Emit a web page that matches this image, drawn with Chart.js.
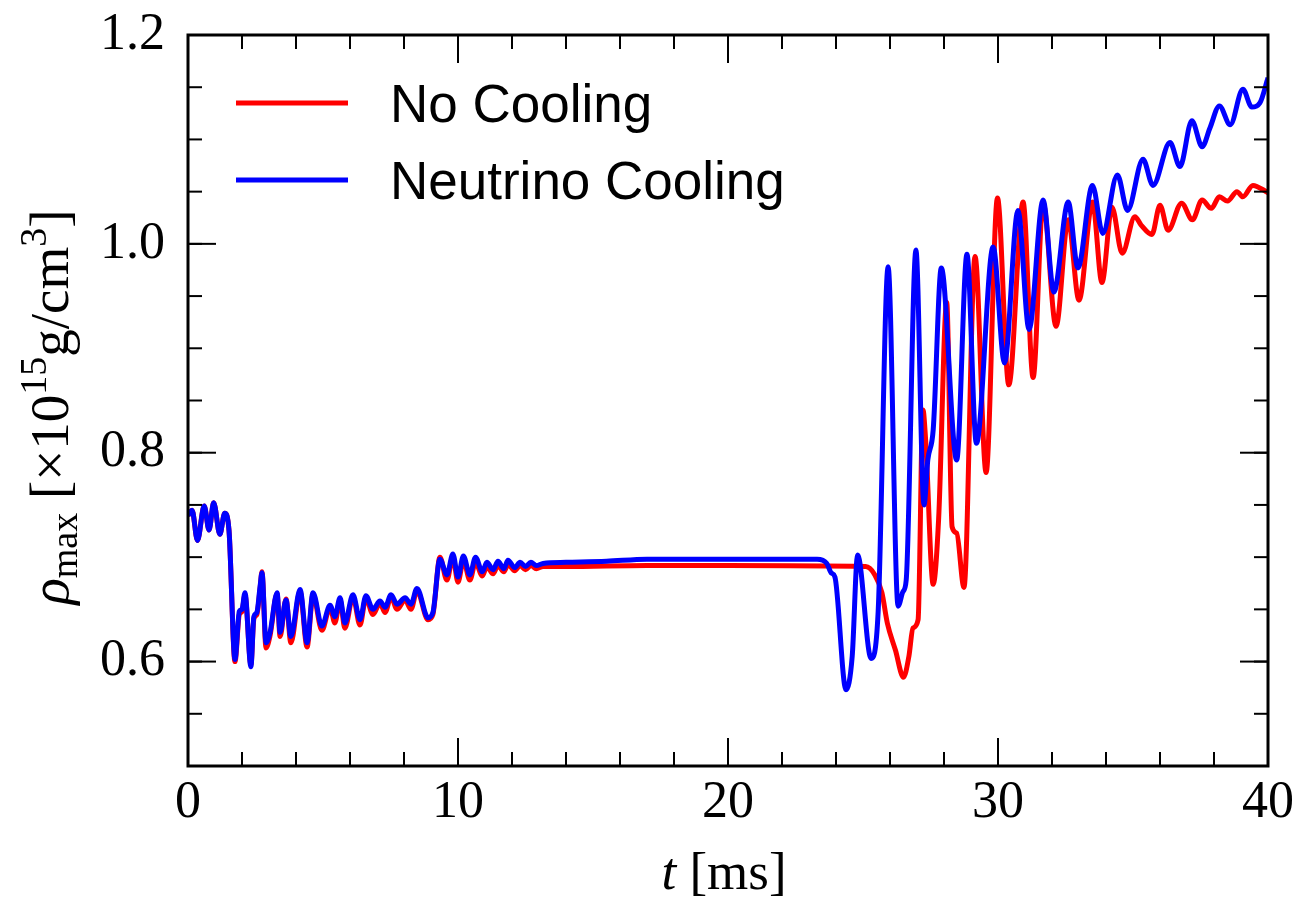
<!DOCTYPE html>
<html>
<head>
<meta charset="utf-8">
<script src="https://cdn.jsdelivr.net/npm/chart.js@4.4.1/dist/chart.umd.min.js"></script>
<style>
  body { margin: 0; background: #fff; }
</style>
</head>
<body>
<canvas id="rhoChart" width="1298" height="905"></canvas>
<script>
// time [ms] and rho_max [1e15 g/cm^3]
var timeNoCool = [0.0, 0.15, 0.35, 0.6, 0.78, 0.95, 1.18, 1.36, 1.52, 1.74, 1.9, 2.0, 2.11, 2.33, 2.44, 2.55, 2.67, 2.74,
    2.89, 3.04, 3.3, 3.41, 3.63, 3.81, 4.15, 4.41, 4.63, 4.96, 5.26, 5.44, 5.63, 5.81, 6.11, 6.37, 6.59, 6.85,
    7.11, 7.3, 7.52, 7.74, 8.04, 8.26, 8.48, 8.89, 9.07, 9.33, 9.59, 9.81, 10.0, 10.2, 10.44, 10.65, 10.9,
    11.07, 11.3, 11.48, 11.7, 11.85, 12.1, 12.3, 12.5, 12.7, 12.9, 13.15, 14.0, 17.0, 20.0, 25.1, 25.44,
    25.7, 25.9, 26.2, 26.5, 26.7, 26.85, 27.04, 27.22, 27.32, 27.6, 27.8, 28.1, 28.3, 28.47, 28.74, 29.15,
    29.56, 29.98, 30.4, 30.93, 31.3, 31.67, 32.15, 32.6, 33.0, 33.5, 33.85, 34.22, 34.6, 35.07, 35.3, 35.7,
    36.0, 36.3, 36.8, 37.2, 37.56, 37.9, 38.2, 38.5, 38.85, 39.07, 39.44, 40.0];
var rhoNoCool = [0.740, 0.745, 0.716, 0.749, 0.726, 0.752, 0.722, 0.742, 0.725, 0.600, 0.645, 0.648, 0.664, 0.597, 0.641, 0.645, 0.670, 0.686,
    0.613, 0.625, 0.665, 0.624, 0.660, 0.618, 0.667, 0.614, 0.664, 0.630, 0.652, 0.637, 0.659, 0.632, 0.662, 0.635, 0.661, 0.645,
    0.656, 0.647, 0.662, 0.650, 0.659, 0.650, 0.668, 0.640, 0.645, 0.700, 0.678, 0.700, 0.676, 0.697, 0.678, 0.695, 0.682,
    0.691, 0.684, 0.692, 0.686, 0.693, 0.687, 0.692, 0.688, 0.692, 0.689, 0.691, 0.691, 0.692, 0.692, 0.691, 0.683,
    0.666, 0.637, 0.611, 0.585, 0.605, 0.632, 0.640, 0.841, 0.812, 0.674, 0.736, 0.944, 0.729, 0.723, 0.671, 0.988,
    0.781, 1.044, 0.865, 1.040, 0.872, 1.039, 0.921, 1.023, 0.946, 1.040, 0.963, 1.035, 0.991, 1.026, 1.018, 1.009,
    1.037, 1.013, 1.039, 1.023, 1.042, 1.034, 1.045, 1.041, 1.050, 1.045, 1.056, 1.049];

var timeNuCool = [0.0, 0.15, 0.35, 0.6, 0.78, 0.95, 1.18, 1.36, 1.52, 1.74, 1.9, 2.0, 2.11, 2.33, 2.44, 2.55, 2.67, 2.74,
    2.89, 3.04, 3.3, 3.41, 3.63, 3.81, 4.15, 4.41, 4.63, 4.96, 5.26, 5.44, 5.63, 5.81, 6.11, 6.37, 6.59, 6.85,
    7.11, 7.3, 7.52, 7.74, 8.04, 8.26, 8.48, 8.89, 9.07, 9.33, 9.59, 9.81, 10.0, 10.2, 10.44, 10.65, 10.9,
    11.07, 11.3, 11.48, 11.7, 11.85, 12.1, 12.3, 12.5, 12.7, 12.9, 13.15, 14.0, 15.5, 17.0, 20.0, 23.3,
    23.66, 23.82, 23.96, 24.37, 24.6, 24.8, 25.3, 25.56, 25.93, 26.3, 26.48, 26.6, 26.96, 27.26, 27.4, 27.6,
    27.9, 28.47, 28.85, 29.2, 29.82, 30.24, 30.74, 31.15, 31.67, 32.07, 32.6, 32.96, 33.5, 33.88, 34.42, 34.8,
    35.37, 35.74, 36.37, 36.74, 37.18, 37.56, 37.85, 38.2, 38.6, 39.07, 39.4, 39.7, 40.0];
var rhoNuCool = [0.740, 0.745, 0.716, 0.749, 0.726, 0.752, 0.722, 0.742, 0.725, 0.602, 0.648, 0.650, 0.666, 0.595, 0.643, 0.647, 0.672, 0.685,
    0.618, 0.628, 0.666, 0.628, 0.659, 0.624, 0.669, 0.618, 0.666, 0.634, 0.654, 0.643, 0.661, 0.637, 0.664, 0.640, 0.663, 0.650,
    0.658, 0.652, 0.664, 0.655, 0.661, 0.655, 0.670, 0.642, 0.647, 0.698, 0.683, 0.703, 0.681, 0.701, 0.683, 0.700, 0.686,
    0.695, 0.688, 0.696, 0.689, 0.697, 0.690, 0.695, 0.691, 0.695, 0.692, 0.694, 0.695, 0.696, 0.698, 0.698, 0.698,
    0.694, 0.685, 0.681, 0.573, 0.605, 0.702, 0.603, 0.647, 0.978, 0.653, 0.667, 0.678, 0.994, 0.750, 0.793, 0.822,
    0.977, 0.793, 0.990, 0.809, 0.997, 0.886, 1.032, 0.918, 1.042, 0.954, 1.040, 0.977, 1.056, 1.010, 1.066, 1.032,
    1.081, 1.056, 1.097, 1.074, 1.118, 1.093, 1.111, 1.132, 1.114, 1.148, 1.131, 1.135, 1.159];

var seriesNames = ["No Cooling", "Neutrino Cooling"];
var xTickLabels = [0, 10, 20, 30, 40];
var yTickLabels = [0.6, 0.8, 1.0, 1.2];

var serif = "'Liberation Serif', 'DejaVu Serif', serif";
var sans = "'Liberation Sans', Arial, sans-serif";

function toPoints(xs, ys) {
    return xs.map(function (x, i) { return { x: x, y: ys[i] }; });
}

function drawRich(ctx, parts, cx, baseY) {
    var total = 0;
    parts.forEach(function (p) {
        ctx.font = p.font;
        p.w = ctx.measureText(p.text).width;
        total += p.w;
    });
    var x = cx - total / 2;
    parts.forEach(function (p) {
        ctx.font = p.font;
        ctx.fillText(p.text, x, baseY + (p.dy || 0));
        x += p.w;
    });
}

var axesDecor = {
    id: 'axesDecor',
    afterDraw: function (chart) {
        var ctx = chart.ctx, a = chart.chartArea;
        var xs = chart.scales.x, ys = chart.scales.y;
        ctx.save();
        ctx.strokeStyle = '#000';
        ctx.fillStyle = '#000';
        ctx.lineWidth = 2;

        function seg(x1, y1, x2, y2) {
            ctx.beginPath(); ctx.moveTo(x1, y1); ctx.lineTo(x2, y2); ctx.stroke();
        }
        function tickX(v, len) {
            var px = xs.getPixelForValue(v);
            seg(px, a.bottom, px, a.bottom - len);
            seg(px, a.top, px, a.top + len);
        }
        function tickY(v, len) {
            var py = ys.getPixelForValue(v);
            seg(a.left, py, a.left + len, py);
            seg(a.right, py, a.right - len, py);
        }
        for (var t = 0; t <= 40; t += 2) tickX(t, 14);
        xTickLabels.forEach(function (v) { tickX(v, 28); });
        for (var k = 10; k <= 24; k++) tickY(k * 0.05, 14);
        yTickLabels.forEach(function (v) { tickY(v, 28); });

        ctx.lineWidth = 3;
        ctx.strokeRect(a.left, a.top, a.width, a.height);

        // legend
        ctx.lineWidth = 5;
        ctx.font = '53px ' + sans;
        ctx.textBaseline = 'alphabetic';
        ctx.textAlign = 'left';
        var rows = [103, 180];
        chart.data.datasets.forEach(function (ds, i) {
            ctx.strokeStyle = ds.borderColor;
            seg(236, rows[i], 348, rows[i]);
            ctx.fillStyle = '#000';
            ctx.fillText(ds.label, 390, rows[i] + 19);
        });

        // axis titles
        ctx.fillStyle = '#000';
        drawRich(ctx, [
            { text: 't', font: 'italic 53px ' + serif },
            { text: ' [ms]', font: '53px ' + serif }
        ], 724, 889);

        ctx.translate(68, 407);
        ctx.rotate(-Math.PI / 2);
        drawRich(ctx, [
            { text: '\u03C1', font: 'italic 55px ' + serif },
            { text: 'max', font: '38px ' + serif, dy: 9 },
            { text: ' [\u00D710', font: '55px ' + serif },
            { text: '15', font: '38px ' + serif, dy: -22 },
            { text: 'g/cm', font: '55px ' + serif },
            { text: '3', font: '38px ' + serif, dy: -22 },
            { text: ']', font: '55px ' + serif }
        ], 0, 0);
        ctx.restore();
    }
};

var ctx = document.getElementById('rhoChart').getContext('2d');
var rhoChart = new Chart(ctx, {
    type: 'line',
    data: {
        datasets: [{
            label: seriesNames[0],
            data: toPoints(timeNoCool, rhoNoCool),
            borderColor: '#ff0000',
            borderWidth: 5,
            pointRadius: 0,
            cubicInterpolationMode: 'monotone',
            order: 1
        }, {
            label: seriesNames[1],
            data: toPoints(timeNuCool, rhoNuCool),
            borderColor: '#0000ff',
            borderWidth: 5,
            pointRadius: 0,
            cubicInterpolationMode: 'monotone',
            order: 0
        }]
    },
    options: {
        responsive: false,
        animation: false,
        devicePixelRatio: 1,
        layout: { padding: { left: 0, top: 35, right: 30, bottom: 0 } },
        plugins: { legend: { display: false }, tooltip: { enabled: false } },
        scales: {
            x: {
                type: 'linear',
                min: 0,
                max: 40,
                grid: { display: false },
                border: { display: false },
                afterBuildTicks: function (scale) {
                    scale.ticks = xTickLabels.map(function (v) { return { value: v }; });
                },
                afterFit: function (scale) {
                    scale.height = 139;
                    scale.paddingLeft = 0;
                    scale.paddingRight = 0;
                },
                ticks: {
                    maxRotation: 0,
                    autoSkip: false,
                    padding: -2,
                    color: '#000',
                    font: { family: serif, size: 52 },
                    callback: function (v) { return String(v); }
                }
            },
            y: {
                type: 'linear',
                min: 0.5,
                max: 1.2,
                grid: { display: false },
                border: { display: false },
                afterBuildTicks: function (scale) {
                    scale.ticks = yTickLabels.map(function (v) { return { value: v }; });
                },
                afterFit: function (scale) {
                    scale.width = 188;
                    scale.paddingTop = 0;
                    scale.paddingBottom = 0;
                },
                ticks: {
                    autoSkip: false,
                    padding: 15,
                    color: '#000',
                    font: { family: serif, size: 52 },
                    callback: function (v) { return Number(v).toFixed(1); }
                }
            }
        }
    },
    plugins: [axesDecor]
});
</script>
</body>
</html>
